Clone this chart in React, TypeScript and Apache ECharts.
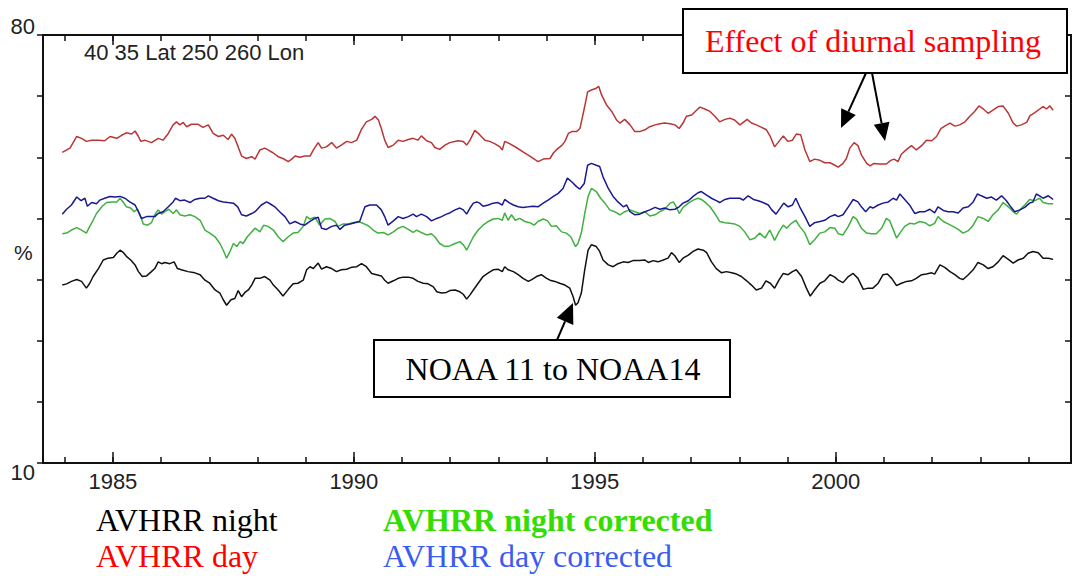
import React, { useEffect, useRef } from 'react';
import * as echarts from 'echarts';

// Year range of the plot frame
const X_MIN = 1983.55;
const X_MAX = 2004.88;
const Y_MIN = 10;
const Y_MAX = 80;

const seriesNames = ['AVHRR night', 'AVHRR day', 'AVHRR night corrected', 'AVHRR day corrected'];

const dayData: [number, number][] = [
  [1983.95,60.8],[1984.11,61.5],[1984.25,63.4],[1984.35,63.1],[1984.45,62.6],[1984.56,62.8],[1984.70,62.8],[1984.83,62.7],[1984.94,63.4],[1985.08,63.1],[1985.18,63.6],[1985.28,64.0],[1985.39,63.8],[1985.46,64.3],[1985.53,63.4],[1985.58,62.6],[1985.66,62.8],[1985.80,62.4],[1985.94,63.1],[1986.04,62.8],[1986.15,63.9],[1986.25,65.3],[1986.32,65.8],[1986.39,65.3],[1986.46,65.7],[1986.53,65.0],[1986.63,65.4],[1986.77,65.4],[1986.87,64.9],[1986.98,65.3],[1987.08,63.9],[1987.19,63.4],[1987.29,63.6],[1987.39,62.9],[1987.46,63.8],[1987.53,63.1],[1987.60,61.7],[1987.67,60.2],[1987.77,59.8],[1987.88,60.1],[1987.95,59.7],
  [1988.05,61.2],[1988.15,61.5],[1988.22,61.2],[1988.33,60.7],[1988.43,60.1],[1988.53,59.8],[1988.64,59.3],[1988.71,59.7],[1988.78,60.2],[1988.88,60.0],[1988.98,60.2],[1989.09,60.2],[1989.16,61.2],[1989.26,62.4],[1989.33,61.5],[1989.43,61.7],[1989.54,62.4],[1989.64,61.5],[1989.74,62.0],[1989.85,62.6],[1989.95,62.4],[1990.06,62.8],[1990.16,64.6],[1990.26,65.8],[1990.37,66.2],[1990.44,66.7],[1990.51,66.1],[1990.57,64.7],[1990.64,62.8],[1990.71,61.6],[1990.82,62.0],[1990.92,62.8],[1991.02,62.6],[1991.13,62.9],[1991.23,63.1],[1991.33,62.8],[1991.40,63.5],[1991.51,62.7],[1991.61,62.4],[1991.68,61.6],[1991.78,61.3],[1991.89,62.0],[1991.99,62.4],
  [1992.16,62.7],[1992.27,62.6],[1992.34,62.0],[1992.41,62.8],[1992.51,64.4],[1992.61,63.7],[1992.72,62.8],[1992.82,62.6],[1992.93,62.2],[1993.03,61.7],[1993.08,61.2],[1993.13,62.6],[1993.24,62.2],[1993.37,61.6],[1993.51,60.9],[1993.65,60.2],[1993.76,59.6],[1993.82,59.3],[1993.93,59.7],[1994.07,59.8],[1994.14,60.7],[1994.20,61.2],[1994.31,61.9],[1994.38,62.6],[1994.45,63.9],[1994.52,64.2],[1994.62,64.2],[1994.69,64.7],[1994.76,67.2],[1994.81,69.1],[1994.85,70.7],[1994.93,71.0],[1995.03,71.3],[1995.08,71.6],[1995.14,70.2],[1995.24,68.6],[1995.35,67.5],[1995.45,66.1],[1995.52,65.6],[1995.62,66.2],[1995.73,65.3],[1995.83,64.2],[1995.93,64.2],
  [1996.04,64.5],[1996.14,65.0],[1996.25,65.3],[1996.35,65.5],[1996.45,65.6],[1996.56,65.5],[1996.66,65.3],[1996.75,64.7],[1996.83,65.6],[1996.90,66.7],[1997.01,66.9],[1997.11,67.7],[1997.18,68.2],[1997.28,67.9],[1997.39,67.5],[1997.49,66.7],[1997.59,65.8],[1997.70,66.2],[1997.80,66.4],[1997.90,66.1],[1998.01,65.3],[1998.08,65.7],[1998.16,66.2],[1998.25,65.6],[1998.35,65.3],[1998.46,64.9],[1998.56,64.5],[1998.64,63.4],[1998.73,61.7],[1998.82,62.6],[1998.91,63.5],[1999.01,62.6],[1999.10,62.8],[1999.18,63.8],[1999.27,63.7],[1999.36,61.2],[1999.46,59.3],[1999.56,59.7],[1999.67,59.5],[1999.77,59.1],[1999.88,59.1],[1999.98,58.7],
  [2000.05,58.4],[2000.15,59.0],[2000.22,59.8],[2000.29,61.5],[2000.38,62.4],[2000.46,61.9],[2000.53,60.4],[2000.64,59.0],[2000.71,58.6],[2000.79,59.0],[2000.91,58.9],[2001.05,58.9],[2001.14,59.5],[2001.21,59.7],[2001.29,59.3],[2001.36,60.5],[2001.47,61.3],[2001.57,61.9],[2001.67,61.2],[2001.78,61.9],[2001.88,62.8],[2001.99,62.7],[2002.09,63.4],[2002.18,64.7],[2002.26,65.1],[2002.37,65.6],[2002.47,65.1],[2002.57,65.3],[2002.68,65.8],[2002.78,66.7],[2002.88,67.5],[2002.97,68.4],[2003.06,67.9],[2003.16,67.2],[2003.26,67.7],[2003.37,68.3],[2003.47,68.4],[2003.58,67.2],[2003.68,65.6],[2003.75,65.1],[2003.85,65.3],[2003.96,65.7],[2004.03,66.8],[2004.13,67.3],[2004.23,67.9],[2004.30,68.3],[2004.37,67.9],[2004.44,68.4],[2004.51,67.7],
];

const dayCorrData: [number, number][] = [
  [1983.95,50.7],[1984.04,51.5],[1984.14,52.2],[1984.25,53.5],[1984.34,52.9],[1984.42,53.3],[1984.47,52.0],[1984.56,52.6],[1984.66,52.4],[1984.73,53.0],[1984.83,53.3],[1984.94,53.6],[1985.04,53.5],[1985.15,53.6],[1985.25,53.3],[1985.35,52.7],[1985.46,52.2],[1985.53,51.1],[1985.59,50.0],[1985.70,50.3],[1985.80,50.3],[1985.87,50.3],[1985.94,50.8],[1986.04,51.1],[1986.15,51.9],[1986.25,52.7],[1986.30,53.3],[1986.39,52.9],[1986.49,53.0],[1986.60,52.6],[1986.70,53.1],[1986.81,53.3],[1986.91,53.3],[1986.98,53.7],[1987.08,53.3],[1987.19,52.9],[1987.29,52.7],[1987.39,52.6],[1987.50,52.5],[1987.59,51.9],[1987.67,50.6],[1987.77,50.4],[1987.88,50.8],[1987.95,51.1],
  [1988.08,52.2],[1988.19,52.7],[1988.26,52.4],[1988.36,51.9],[1988.46,51.1],[1988.57,50.3],[1988.67,49.1],[1988.78,49.5],[1988.88,49.1],[1988.98,48.9],[1989.09,49.5],[1989.19,50.0],[1989.26,50.2],[1989.33,48.4],[1989.43,48.2],[1989.54,48.7],[1989.64,48.9],[1989.71,48.2],[1989.81,48.9],[1989.92,49.1],[1990.02,49.3],[1990.12,49.5],[1990.23,51.9],[1990.33,52.2],[1990.47,52.2],[1990.57,51.4],[1990.64,50.3],[1990.71,48.9],[1990.82,49.6],[1990.92,50.3],[1991.02,50.0],[1991.13,50.3],[1991.23,50.7],[1991.30,50.3],[1991.40,50.7],[1991.51,50.3],[1991.61,49.6],[1991.72,50.0],[1991.82,50.3],[1991.92,50.7],
  [1991.99,50.9],[1992.10,51.4],[1992.20,51.7],[1992.27,51.4],[1992.34,50.7],[1992.41,51.7],[1992.48,52.5],[1992.55,52.7],[1992.61,52.5],[1992.68,52.0],[1992.79,52.2],[1992.89,52.5],[1992.99,52.6],[1993.08,52.2],[1993.13,53.1],[1993.22,52.6],[1993.31,52.2],[1993.41,51.9],[1993.51,51.8],[1993.62,51.9],[1993.72,52.0],[1993.82,51.9],[1993.93,52.5],[1994.03,53.0],[1994.14,53.6],[1994.24,54.1],[1994.34,54.9],[1994.43,56.6],[1994.52,56.0],[1994.62,55.2],[1994.69,54.8],[1994.78,55.7],[1994.85,58.7],[1994.93,59.0],[1995.03,58.7],[1995.10,58.5],[1995.17,56.8],[1995.28,54.9],[1995.38,53.6],[1995.48,52.7],[1995.59,51.9],[1995.66,52.2],[1995.73,51.1],[1995.83,50.6],[1995.93,50.7],
  [1996.04,51.1],[1996.14,51.4],[1996.25,51.8],[1996.35,51.5],[1996.45,51.7],[1996.56,51.4],[1996.66,51.5],[1996.75,51.9],[1996.83,52.5],[1996.94,52.9],[1997.04,53.6],[1997.14,54.2],[1997.21,54.4],[1997.32,53.8],[1997.42,53.3],[1997.52,52.9],[1997.59,52.6],[1997.70,53.1],[1997.80,53.3],[1997.90,53.3],[1998.01,53.3],[1998.08,53.0],[1998.18,53.7],[1998.29,53.1],[1998.39,52.9],[1998.49,52.6],[1998.60,52.2],[1998.67,51.4],[1998.76,50.7],[1998.82,51.4],[1998.92,52.5],[1999.01,51.9],[1999.10,52.2],[1999.17,53.3],[1999.25,51.9],[1999.36,50.3],[1999.46,48.7],[1999.56,49.3],[1999.67,49.5],[1999.77,49.7],[1999.88,50.3],[1999.98,50.6],
  [2000.05,50.3],[2000.15,50.6],[2000.26,51.9],[2000.36,53.1],[2000.46,52.7],[2000.53,51.9],[2000.62,51.1],[2000.71,51.9],[2000.77,51.7],[2000.88,52.2],[2000.98,52.5],[2001.09,52.7],[2001.19,53.3],[2001.26,53.0],[2001.33,54.0],[2001.43,53.1],[2001.53,52.2],[2001.64,50.8],[2001.74,51.1],[2001.85,51.1],[2001.95,51.5],[2002.05,50.9],[2002.12,51.9],[2002.23,51.3],[2002.33,51.1],[2002.43,51.1],[2002.54,50.9],[2002.64,51.7],[2002.75,51.9],[2002.85,52.7],[2002.94,54.0],[2003.02,53.7],[2003.13,53.3],[2003.23,53.5],[2003.33,53.0],[2003.44,53.7],[2003.54,52.9],[2003.63,51.9],[2003.71,51.1],[2003.82,51.4],[2003.92,51.8],[2004.02,52.5],[2004.09,52.7],[2004.16,54.0],[2004.23,53.7],[2004.30,53.3],[2004.41,53.7],[2004.51,53.1],
];

const nightCorrData: [number, number][] = [
  [1983.95,47.5],[1984.04,47.6],[1984.14,48.1],[1984.25,48.5],[1984.35,48.1],[1984.45,47.6],[1984.52,48.7],[1984.59,49.7],[1984.66,50.8],[1984.77,51.9],[1984.87,52.6],[1984.97,52.7],[1985.08,52.7],[1985.15,53.3],[1985.22,52.6],[1985.28,51.9],[1985.37,51.7],[1985.44,51.1],[1985.51,51.5],[1985.58,50.3],[1985.63,49.1],[1985.72,48.9],[1985.80,49.3],[1985.87,50.6],[1985.94,51.4],[1986.01,50.7],[1986.08,51.1],[1986.16,51.5],[1986.25,50.8],[1986.32,51.4],[1986.39,50.6],[1986.49,50.4],[1986.60,50.6],[1986.70,50.3],[1986.81,49.7],[1986.91,48.1],[1987.01,47.6],[1987.12,47.0],[1987.22,45.9],[1987.29,44.8],[1987.36,43.5],[1987.43,44.6],[1987.50,45.9],[1987.57,45.4],[1987.64,46.2],[1987.70,45.9],[1987.79,47.0],[1987.88,47.8],[1987.95,48.4],
  [1988.05,47.8],[1988.13,48.9],[1988.22,48.7],[1988.33,48.1],[1988.43,47.0],[1988.53,46.2],[1988.64,47.0],[1988.74,47.6],[1988.84,47.7],[1988.95,48.7],[1989.02,50.3],[1989.09,49.9],[1989.19,50.2],[1989.29,48.9],[1989.40,49.9],[1989.50,50.0],[1989.61,49.5],[1989.67,48.7],[1989.78,49.1],[1989.88,49.1],[1989.98,49.3],[1990.09,49.5],[1990.19,49.2],[1990.30,48.8],[1990.40,48.1],[1990.50,47.6],[1990.61,47.7],[1990.71,47.3],[1990.82,47.8],[1990.92,48.4],[1991.02,48.7],[1991.13,48.2],[1991.23,47.7],[1991.30,48.1],[1991.40,47.7],[1991.51,47.3],[1991.61,47.5],[1991.68,47.0],[1991.78,45.9],[1991.89,45.4],[1991.99,45.5],
  [1992.10,45.9],[1992.20,46.2],[1992.27,45.7],[1992.34,44.8],[1992.41,45.9],[1992.48,47.0],[1992.58,48.1],[1992.68,48.9],[1992.79,49.5],[1992.89,49.9],[1992.99,50.0],[1993.08,49.7],[1993.13,50.9],[1993.20,49.7],[1993.27,50.6],[1993.35,49.7],[1993.44,50.0],[1993.55,49.5],[1993.65,49.3],[1993.74,48.9],[1993.82,49.5],[1993.93,49.9],[1994.02,49.6],[1994.10,48.7],[1994.20,48.8],[1994.31,47.8],[1994.41,47.6],[1994.50,47.0],[1994.60,45.4],[1994.65,45.9],[1994.72,47.6],[1994.79,50.8],[1994.86,53.6],[1994.93,54.9],[1995.03,54.4],[1995.12,53.3],[1995.21,52.5],[1995.31,51.4],[1995.41,51.1],[1995.52,50.6],[1995.62,51.1],[1995.73,51.4],[1995.83,51.1],[1995.93,50.8],
  [1996.04,51.1],[1996.14,50.4],[1996.25,50.6],[1996.35,51.1],[1996.45,51.5],[1996.56,52.5],[1996.63,52.7],[1996.69,51.9],[1996.75,50.8],[1996.83,51.8],[1996.94,52.5],[1997.04,53.0],[1997.14,53.3],[1997.21,53.1],[1997.28,52.7],[1997.39,51.9],[1997.49,50.8],[1997.59,49.5],[1997.70,49.3],[1997.80,49.2],[1997.90,49.1],[1998.01,48.7],[1998.11,47.8],[1998.22,46.5],[1998.32,46.8],[1998.42,47.6],[1998.53,46.8],[1998.63,48.1],[1998.73,46.4],[1998.82,47.8],[1998.91,48.9],[1998.98,48.4],[1999.08,49.2],[1999.17,49.7],[1999.25,48.7],[1999.36,47.6],[1999.46,45.7],[1999.56,46.5],[1999.67,47.6],[1999.77,47.8],[1999.88,48.5],[1999.98,48.4],
  [2000.05,47.5],[2000.15,47.3],[2000.26,48.7],[2000.36,50.3],[2000.43,49.9],[2000.53,48.4],[2000.64,47.6],[2000.74,47.5],[2000.84,47.5],[2000.95,48.4],[2001.05,50.0],[2001.12,49.6],[2001.21,47.8],[2001.26,46.8],[2001.33,47.6],[2001.43,48.7],[2001.53,49.2],[2001.64,49.1],[2001.74,49.5],[2001.85,49.3],[2001.95,48.8],[2002.05,49.2],[2002.12,50.3],[2002.23,49.5],[2002.33,49.1],[2002.43,48.7],[2002.54,48.2],[2002.64,47.6],[2002.75,48.0],[2002.85,48.9],[2002.95,50.3],[2003.06,50.0],[2003.16,49.5],[2003.26,50.6],[2003.37,51.4],[2003.47,52.6],[2003.58,51.9],[2003.68,51.1],[2003.75,50.7],[2003.82,51.4],[2003.92,52.2],[2004.02,53.1],[2004.13,52.9],[2004.23,53.3],[2004.30,52.6],[2004.41,52.4],[2004.51,52.4],
];

const nightData: [number, number][] = [
  [1983.95,39.1],[1984.04,39.3],[1984.14,39.7],[1984.25,40.0],[1984.35,39.7],[1984.45,38.6],[1984.52,39.4],[1984.59,40.5],[1984.70,41.8],[1984.80,43.2],[1984.90,43.5],[1985.01,43.6],[1985.08,44.3],[1985.15,44.8],[1985.22,44.4],[1985.28,43.8],[1985.37,43.2],[1985.46,42.4],[1985.53,41.3],[1985.61,40.5],[1985.70,40.6],[1985.80,41.3],[1985.87,41.8],[1985.94,42.9],[1986.01,42.6],[1986.08,42.8],[1986.18,42.6],[1986.27,42.9],[1986.34,41.8],[1986.42,41.6],[1986.56,41.3],[1986.70,41.1],[1986.81,40.8],[1986.91,39.9],[1987.01,39.4],[1987.12,38.3],[1987.22,37.8],[1987.29,36.7],[1987.36,35.8],[1987.45,36.7],[1987.53,36.9],[1987.60,38.2],[1987.67,37.2],[1987.74,37.9],[1987.81,38.3],[1987.88,39.1],[1987.95,40.2],
  [1988.05,40.2],[1988.15,40.5],[1988.26,39.9],[1988.33,39.1],[1988.43,38.3],[1988.53,37.3],[1988.64,38.4],[1988.74,39.3],[1988.84,39.4],[1988.95,39.9],[1989.02,41.6],[1989.09,42.1],[1989.16,41.8],[1989.26,42.7],[1989.33,41.7],[1989.43,42.1],[1989.54,41.8],[1989.64,41.3],[1989.74,41.6],[1989.85,41.7],[1989.95,42.0],[1990.06,42.1],[1990.16,42.6],[1990.26,42.1],[1990.37,41.0],[1990.47,40.8],[1990.57,40.6],[1990.64,39.9],[1990.71,39.4],[1990.82,39.8],[1990.92,40.2],[1991.02,40.4],[1991.13,40.4],[1991.23,40.2],[1991.33,39.7],[1991.44,39.4],[1991.54,39.3],[1991.65,38.8],[1991.72,38.0],[1991.82,37.8],[1991.92,37.9],
  [1991.99,38.2],[1992.10,38.3],[1992.20,38.0],[1992.27,37.6],[1992.34,36.8],[1992.41,37.5],[1992.48,38.3],[1992.58,39.4],[1992.68,40.5],[1992.79,41.1],[1992.89,41.6],[1992.99,41.7],[1993.08,41.3],[1993.13,42.1],[1993.20,41.6],[1993.31,41.3],[1993.41,40.8],[1993.51,40.2],[1993.62,39.7],[1993.69,40.0],[1993.79,40.5],[1993.89,40.8],[1994.00,40.2],[1994.07,39.9],[1994.17,39.7],[1994.27,39.4],[1994.38,39.1],[1994.48,38.6],[1994.55,37.2],[1994.60,35.8],[1994.65,36.2],[1994.72,37.8],[1994.79,41.6],[1994.86,44.8],[1994.93,45.7],[1995.03,45.4],[1995.10,44.6],[1995.17,43.2],[1995.28,42.4],[1995.38,42.1],[1995.48,42.6],[1995.59,42.9],[1995.69,42.8],[1995.79,43.1],[1995.93,43.1],
  [1996.04,43.2],[1996.11,42.8],[1996.21,43.1],[1996.31,42.9],[1996.42,43.2],[1996.52,43.5],[1996.59,44.4],[1996.66,43.9],[1996.75,42.8],[1996.83,43.5],[1996.94,44.0],[1997.04,44.6],[1997.14,45.0],[1997.25,44.8],[1997.32,44.4],[1997.42,42.9],[1997.52,41.8],[1997.63,41.1],[1997.73,41.3],[1997.84,41.1],[1997.94,40.9],[1998.04,40.5],[1998.15,39.8],[1998.25,39.1],[1998.35,38.3],[1998.46,38.6],[1998.55,39.8],[1998.64,39.4],[1998.73,38.6],[1998.82,39.9],[1998.91,41.0],[1999.01,40.8],[1999.10,41.3],[1999.18,41.6],[1999.29,40.5],[1999.39,38.6],[1999.47,37.3],[1999.56,38.3],[1999.67,39.4],[1999.77,39.8],[1999.88,40.8],[1999.98,40.4],
  [2000.05,39.9],[2000.15,39.5],[2000.26,40.5],[2000.36,41.0],[2000.46,40.2],[2000.57,38.4],[2000.67,38.6],[2000.77,38.6],[2000.88,39.4],[2000.98,40.8],[2001.07,40.9],[2001.16,40.2],[2001.26,39.0],[2001.36,39.4],[2001.47,39.7],[2001.57,39.8],[2001.67,40.2],[2001.78,40.8],[2001.88,40.9],[2001.99,41.1],[2002.05,40.9],[2002.16,42.4],[2002.26,42.0],[2002.37,41.3],[2002.47,40.8],[2002.57,40.2],[2002.64,40.0],[2002.75,40.8],[2002.85,41.6],[2002.95,42.8],[2003.06,42.4],[2003.16,41.8],[2003.26,42.1],[2003.37,42.9],[2003.47,43.9],[2003.58,43.3],[2003.68,42.7],[2003.78,43.2],[2003.89,43.5],[2003.99,44.3],[2004.09,44.6],[2004.20,44.4],[2004.30,43.5],[2004.41,43.5],[2004.51,43.3],
];

const lineColors = ['#111111', '#bb3535', '#40b040', '#1a1a90'];
const legendColors = ['#000000', '#ff0000', '#33dd00', '#3a5cf0'];
const legendWeights = ['normal', 'normal', 'bold', 'normal'];

const AXIS = '#111111';
const SANS = '"Liberation Sans", Arial, sans-serif';
const SERIF = '"Liberation Serif", "Times New Roman", serif';

function arrow(x1: number, y1: number, x2: number, y2: number, hl: number, hw: number) {
  const dx = x2 - x1, dy = y2 - y1;
  const L = Math.hypot(dx, dy);
  const ux = dx / L, uy = dy / L;
  const bx = x2 - ux * hl, by = y2 - uy * hl;
  return [
    { type: 'line', z: 100, shape: { x1, y1, x2: bx, y2: by }, style: { stroke: '#000', lineWidth: 2 } },
    { type: 'polygon', z: 100, shape: { points: [[x2, y2], [bx - uy * hw, by + ux * hw], [bx + uy * hw, by - ux * hw]] }, style: { fill: '#000' } },
  ];
}

export default function App() {
  const ref = useRef<HTMLDivElement>(null);
  useEffect(() => {
    if (!ref.current) return;
    const chart = echarts.init(ref.current, undefined, { renderer: 'svg' });
    const xBase = {
      type: 'value', min: X_MIN, max: X_MAX,
      splitLine: { show: false },
      axisLine: { show: true, onZero: false, lineStyle: { color: AXIS, width: 2 } },
    };
    const yearLabel = (v: number) => {
      const r = Math.round(v);
      return Math.abs(v - r) < 1e-6 && r % 5 === 0 ? String(r) : '';
    };
    const yBase = {
      type: 'value', min: Y_MIN, max: Y_MAX, interval: 10,
      splitLine: { show: false },
      axisLine: { show: true, lineStyle: { color: AXIS, width: 2 } },
    };
    const dataSets = [nightData, dayData, nightCorrData, dayCorrData];
    const legendPos = [[91, 504], [91, 540], [378, 504], [378, 540]];
    const option: any = {
      animation: false,
      backgroundColor: '#ffffff',
      title: {
        text: '40 35 Lat 250 260 Lon', left: 84, top: 41, padding: 0,
        textStyle: { fontFamily: SANS, fontSize: 22, fontWeight: 'normal', color: '#222' },
      },
      grid: { left: 43, right: 4, top: 35, bottom: 113, containLabel: false },
      legend: seriesNames.map((name, i) => ({
        left: legendPos[i][0], top: legendPos[i][1], padding: 0,
        itemWidth: 0, itemHeight: 0, icon: 'rect', selectedMode: false,
        textStyle: { fontFamily: SERIF, fontSize: 32, color: legendColors[i], fontWeight: legendWeights[i] },
        data: [{ name }],
      })),
      xAxis: [
        { ...xBase, position: 'bottom', splitNumber: 21, axisTick: { show: true, inside: true, length: 6, lineStyle: { color: AXIS, width: 1.5 } }, axisLabel: { show: false } },
        {
          ...xBase, position: 'bottom', splitNumber: 4,
          axisTick: { show: true, inside: true, length: 11, lineStyle: { color: AXIS, width: 1.5 } },
          axisLabel: { show: true, formatter: yearLabel, showMinLabel: false, showMaxLabel: false, margin: 7, fontFamily: SANS, fontSize: 22, color: '#222' },
        },
        { ...xBase, position: 'top', splitNumber: 21, axisTick: { show: true, inside: true, length: 6, lineStyle: { color: AXIS, width: 1.5 } }, axisLabel: { show: false } },
        { ...xBase, position: 'top', splitNumber: 4, axisTick: { show: true, inside: true, length: 10, lineStyle: { color: AXIS, width: 1.5 } }, axisLabel: { show: false } },
      ],
      yAxis: [
        {
          ...yBase, position: 'left',
          axisTick: { show: true, inside: false, length: 6, lineStyle: { color: AXIS, width: 1.5 } },
          axisLabel: {
            show: true, margin: 8, color: '#222', fontFamily: SANS, fontSize: 22,
            formatter: (v: number) => (v === Y_MAX ? '{t|' + v + '}' : v === Y_MIN ? '{b|' + v + '}' : ''),
            rich: {
              t: { fontFamily: SANS, fontSize: 22, color: '#222', padding: [0, 0, 18, 0] },
              b: { fontFamily: SANS, fontSize: 22, color: '#222', padding: [18, 0, 0, 0] },
            },
          },
        },
        {
          ...yBase, position: 'right',
          axisTick: { show: true, inside: true, length: 6, lineStyle: { color: AXIS, width: 1.5 } },
          axisLabel: { show: false },
        },
      ],
      series: seriesNames.map((name, i) => ({
        name, type: 'line', xAxisIndex: 0, yAxisIndex: 0,
        showSymbol: false, symbol: 'none',
        lineStyle: { color: lineColors[i], width: 1.5 },
        itemStyle: { color: lineColors[i] },
        data: dataSets[i],
      })),
      graphic: [
        { type: 'text', left: 14, top: 242, style: { text: '%', font: '21px ' + SANS, fill: '#222' } },
        { type: 'rect', z: 100, shape: { x: 683, y: 9, width: 384, height: 64 }, style: { fill: '#fff', stroke: '#000', lineWidth: 2 } },
        { type: 'text', z: 101, style: { text: 'Effect of diurnal sampling', x: 873, y: 41, textAlign: 'center', textVerticalAlign: 'middle', font: '32px ' + SERIF, fill: '#ff0000' } },
        ...arrow(866, 73, 841, 128, 18, 8),
        ...arrow(872, 73, 885, 141, 18, 8),
        { type: 'rect', z: 100, shape: { x: 374, y: 340, width: 356, height: 57 }, style: { fill: '#fff', stroke: '#000', lineWidth: 2 } },
        { type: 'text', z: 101, style: { text: 'NOAA 11 to NOAA14', x: 553, y: 369, textAlign: 'center', textVerticalAlign: 'middle', font: '32px ' + SERIF, fill: '#000' } },
        ...arrow(557, 340, 573, 303, 20, 9),
      ],
    };
    chart.setOption(option);
    return () => chart.dispose();
  }, []);
  return <div ref={ref} style={{ position: 'absolute', left: 0, top: 0, width: 1075, height: 576, background: '#fff' }} />;
}
